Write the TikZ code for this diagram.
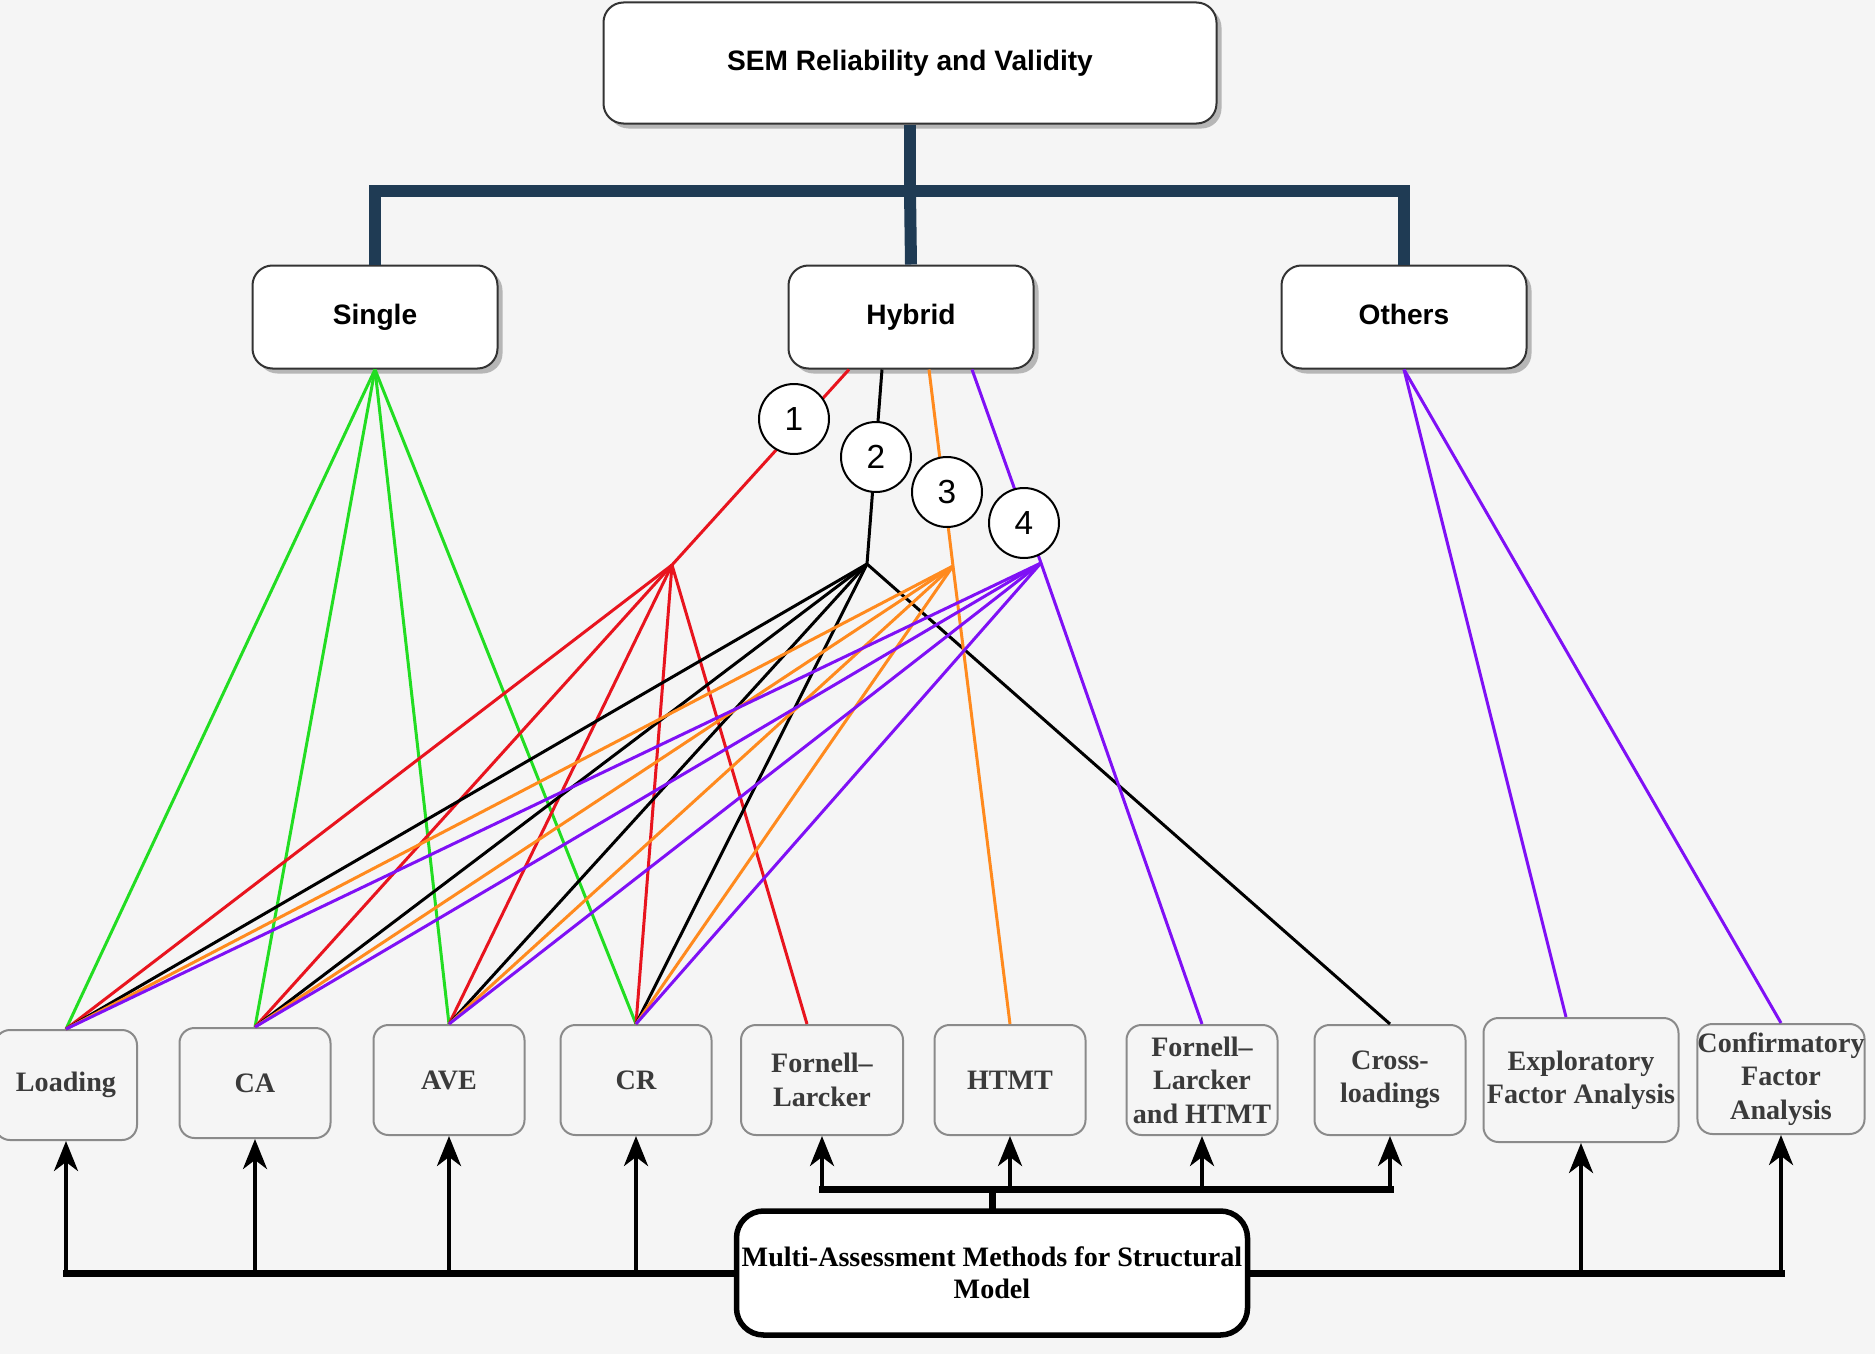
\documentclass[tikz,border=0pt]{standalone}
\usepackage{fontspec}
\setmainfont{Liberation Serif}
\setsansfont{Liberation Sans}
\usetikzlibrary{arrows.meta,shadows}
\definecolor{semBg}{HTML}{F5F5F5}
\definecolor{semTree}{HTML}{1F3B54}
\definecolor{semGreen}{HTML}{22DD22}
\definecolor{semRed}{HTML}{E8141E}
\definecolor{semOrange}{HTML}{FF8A1E}
\definecolor{semPurple}{HTML}{7F10F5}
\definecolor{semEdge}{HTML}{8A8A8A}
\definecolor{semText}{HTML}{3A3A3A}
\tikzset{
  headbox/.style={draw=black!80, fill=white, line width=0.4mm, rounded corners=4mm,
    drop shadow={shadow xshift=1mm, shadow yshift=-1mm, fill=black!45, opacity=0.6},
    inner sep=0pt, text height=11.5pt, text depth=3.2pt,
    font=\sffamily\bfseries\fontsize{16}{19}\selectfont},
  methodbox/.style={draw=semEdge, fill=semBg, line width=0.4mm, rounded corners=3mm,
    inner sep=0pt, minimum width=30.2mm, minimum height=22mm, align=center,
    text=semText, font=\bfseries\fontsize{16}{19}\selectfont},
  numcircle/.style={circle, draw=black, fill=white, line width=0.4mm, minimum size=14mm,
    inner sep=0pt, font=\sffamily\fontsize{19}{19}\selectfont},
  link/.style={line width=0.6mm},
  treeline/.style={draw=semTree, line width=2.4mm},
  busline/.style={line width=1.4mm, line cap=rect},
  uparrow/.style={line width=0.8mm, -{Stealth[length=6mm, width=4.8mm, inset=1.8mm]}},
}
\begin{document}
\begin{tikzpicture}[x=0.2mm, y=-0.2mm]
% canvas in pixel units of the source figure
\path[use as bounding box, fill=semBg] (0,0) rectangle (1875,1354);
% Header boxes
\node[headbox, minimum width=122.6mm, minimum height=24.2mm] (sem) at (910,63) {SEM Reliability and Validity};
\node[headbox, minimum width=49mm, minimum height=20.6mm] (single) at (375,317) {Single};
\node[headbox, minimum width=49mm, minimum height=20.6mm] (hybrid) at (911,317) {Hybrid};
\node[headbox, minimum width=49mm, minimum height=20.6mm] (others) at (1404,317) {Others};
% Tree from the title
\coordinate (fork) at (910,191);
\draw[treeline] (sem.south) -- (fork);
\draw[treeline] (single.north) |- (others.north |- fork) -- (others.north);
\draw[treeline] (fork) -- (hybrid.north);
% Measure boxes
\node[methodbox, minimum width=28.4mm] (load) at (66,1085) {Loading};
\node[methodbox] (ca) at (255,1083) {CA};
\node[methodbox] (ave) at (449,1080) {AVE};
\node[methodbox] (cr) at (636,1080) {CR};
\node[methodbox, minimum width=32.4mm] (fl) at (822,1080) {Fornell–\\Larcker};
\node[methodbox] (htmt) at (1010,1080) {HTMT};
\node[methodbox] (flh) at (1202,1080) {Fornell–\\Larcker\\and HTMT};
\node[methodbox] (cross) at (1390,1080) {Cross-\\loadings};
\node[methodbox, minimum width=39mm, minimum height=24.8mm] (efa) at (1581,1080) {Exploratory\\Factor Analysis};
\node[methodbox, minimum width=32.4mm] (cfa) at (1781,1079) {Confirmatory\\Factor\\Analysis};
% Assessment box
\node[draw=black, fill=white, line width=1.1mm, rounded corners=5.4mm, minimum width=102.2mm,
  minimum height=24.8mm, inner sep=0pt, align=center,
  font=\bfseries\fontsize{16}{18.4}\selectfont] (multi) at (992,1273)
  {Multi-Assessment Methods for Structural\\Model};
% Single strands
\foreach \m in {load,ca,ave,cr}
  \draw[link, semGreen] (single.south) -- (\m.north);
% Hybrid strands
\coordinate (hubR) at (672,565);
\coordinate (hubK) at (867,564);
\coordinate (hubO) at (953,566);
\coordinate (hubP) at (1041,563);
\draw[link, semRed] ([xshift=-12.4mm]hybrid.south) -- (hubR) -- ([xshift=-3mm]fl.north);
\draw[link, black] ([xshift=-5.8mm]hybrid.south) -- (hubK) -- (cross.north);
\draw[link, semOrange] ([xshift=3.6mm]hybrid.south) -- (hubO) -- (htmt.north);
\draw[link, semPurple] ([xshift=12.2mm]hybrid.south) -- (hubP) -- (flh.north);
\foreach \h/\c in {hubR/semRed, hubK/black, hubO/semOrange, hubP/semPurple}
  \foreach \m in {load,ca,ave,cr}
    \draw[link, \c] (\h) -- (\m.north);
% Others strands
\draw[link, semPurple] (others.south) -- ([xshift=-3mm]efa.north);
\draw[link, semPurple] (others.south) -- (cfa.north);
% Numbered markers
\foreach \i/\x/\y in {1/794/419, 2/876/457, 3/947/492, 4/1024/523}
  \node[numcircle] (num\i) at (\x,\y) {\i};
% Lower bus
\draw[busline] (multi.west) -- (multi.west -| load.south);
\foreach \m in {load,ca,ave,cr}
  \draw[uparrow] (multi.west -| \m.south) -- (\m.south);
\draw[busline] (multi.east) -- (multi.east -| cfa.south);
\foreach \m in {efa,cfa}
  \draw[uparrow] (multi.east -| \m.south) -- (\m.south);
% Upper bus
\coordinate (split) at ([yshift=3.8mm]multi.north);
\draw[busline] (multi.north) -- (split);
\draw[busline] (split -| fl.south) -- (split -| cross.south);
\foreach \m in {fl,htmt,flh,cross}
  \draw[uparrow] (split -| \m.south) -- (\m.south);
\end{tikzpicture}
\end{document}
